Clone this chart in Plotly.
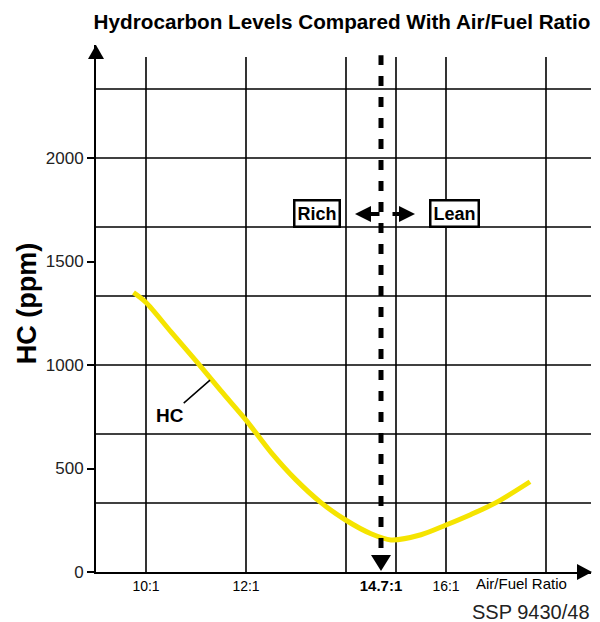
import plotly.graph_objects as go

# curva HC
hc_ratio = [9.75, 10.0, 10.5, 11.0, 11.5, 12.0, 12.5, 13.0, 13.5, 14.0, 14.5, 14.9, 15.5, 16.0, 16.5, 17.0, 17.68]
hc_ppm = [1350, 1302, 1160, 1020, 875, 734, 578, 445, 335, 250, 185, 155, 180, 227, 278, 335, 436]

grid_x = [10, 12, 14, 15, 16, 18]
grid_y = [333.3, 666.7, 1000, 1333.3, 1666.7, 2000, 2333.3]
y_ticks = [0, 500, 1000, 1500, 2000]
x_ticks = [10, 12, 14.7, 16]
x_labels = ["10:1", "12:1", "<b><span style='font-size:15px'>14.7:1</span></b>", "16:1"]
stoich = 14.7

X_MIN, X_MAX = 9, 18.9
Y_MAX = 2546
FONT = "Liberation Sans, Arial, sans-serif"

fig = go.Figure()

fig.add_trace(go.Scatter(
    x=hc_ratio, y=hc_ppm, mode="lines",
    line=dict(color="#F5E400", width=5, shape="spline", smoothing=0.8),
    hoverinfo="skip", showlegend=False
))

shapes = []
for gx in grid_x:
    shapes.append(dict(type="line", x0=gx, x1=gx, y0=0, y1=2488, layer="below",
                       line=dict(color="black", width=1.6)))
for gy in grid_y:
    shapes.append(dict(type="line", x0=X_MIN, x1=X_MAX, y0=gy, y1=gy, layer="below",
                       line=dict(color="black", width=1.6)))

# linea tratteggiata 14.7:1
shapes.append(dict(type="line", x0=stoich, x1=stoich, y0=116, y1=2497,
                   line=dict(color="black", width=5, dash="10px,11px")))
# triangolo in basso
shapes.append(dict(type="path", xsizemode="pixel", ysizemode="pixel",
                   xanchor=stoich, yanchor=0, path="M-10,17 L10,17 L0,1 Z",
                   fillcolor="black", line=dict(width=0)))
# frecce assi (in coordinate paper, cosi' non vengono tagliate)
shapes.append(dict(type="path", xref="paper", yref="paper",
                   xsizemode="pixel", ysizemode="pixel",
                   xanchor=0, yanchor=1, path="M0,0 L-8,-14 L8,-14 Z",
                   fillcolor="black", line=dict(width=0)))
shapes.append(dict(type="path", xref="paper", yref="paper",
                   xsizemode="pixel", ysizemode="pixel",
                   xanchor=1, yanchor=0, path="M1,0 L-14,8 L-14,-8 Z",
                   fillcolor="black", line=dict(width=0)))

annotations = [
    dict(x=-0.139, y=0.5085, xref="paper", yref="paper", text="<b>HC (ppm)</b>",
         textangle=-90, xanchor="center", yanchor="middle", showarrow=False,
         font=dict(size=27, color="black", family=FONT)),
    dict(x=0.9556, y=-0.0209, xref="paper", yref="paper", text="Air/Fuel Ratio",
         xanchor="right", yanchor="middle", showarrow=False,
         font=dict(size=15, color="black", family=FONT)),
    dict(x=1.002, y=-0.0759, xref="paper", yref="paper", text="SSP 9430/48",
         xanchor="right", yanchor="middle", showarrow=False,
         font=dict(size=20, color="#222", family=FONT)),
    # HC etichetta
    dict(x=11.28, y=927, xref="x", yref="y", text="<b>HC</b>", showarrow=True,
         arrowhead=0, arrowwidth=1.5, arrowcolor="black", ax=-40, ay=35,
         font=dict(size=19, color="black", family=FONT)),
    # Rich / Lean
    dict(x=13.42, y=1730, xref="x", yref="y", text="<b>Rich</b>", showarrow=False,
         bordercolor="black", borderwidth=2.5, borderpad=2, bgcolor="white",
         font=dict(size=18, color="black", family=FONT)),
    dict(x=16.16, y=1730, xref="x", yref="y", text="<b>Lean</b>", showarrow=False,
         bordercolor="black", borderwidth=2.5, borderpad=2, bgcolor="white",
         font=dict(size=18, color="black", family=FONT)),
    dict(x=14.18, y=1730, xref="x", yref="y", text="", showarrow=True, arrowhead=2,
         arrowsize=0.8, arrowwidth=4, arrowcolor="black", ax=26, ay=0),
    dict(x=15.38, y=1730, xref="x", yref="y", text="", showarrow=True, arrowhead=2,
         arrowsize=0.8, arrowwidth=4, arrowcolor="black", ax=-24, ay=0),
]

# la pagina ha un margine di 8px: figura spostata di 8px
fig.update_layout(
    width=592, height=614,
    margin=dict(l=88, r=9, t=37, b=50),
    paper_bgcolor="white", plot_bgcolor="white",
    font=dict(family=FONT, color="black"),
    title=dict(text="<b>Hydrocarbon Levels Compared With Air/Fuel Ratio</b>",
               x=334 / 592, xref="container", xanchor="center",
               y=1 - 14 / 614, yanchor="middle",
               font=dict(size=20.7, color="black", family=FONT)),
    shapes=shapes,
    annotations=annotations,
    showlegend=False,
)

fig.update_xaxes(range=[X_MIN, X_MAX], showgrid=False, zeroline=False,
                 showline=True, linecolor="black", linewidth=2,
                 tickvals=x_ticks, ticktext=x_labels, ticks="",
                 tickfont=dict(size=14, color="black", family=FONT))
fig.update_yaxes(range=[0, Y_MAX], showgrid=False, zeroline=False,
                 showline=True, linecolor="black", linewidth=2,
                 tickvals=y_ticks, ticks="outside", ticklen=7, tickwidth=2,
                 tickcolor="black",
                 tickfont=dict(size=17, color="#222", family=FONT))

fig.write_html("out.html")
